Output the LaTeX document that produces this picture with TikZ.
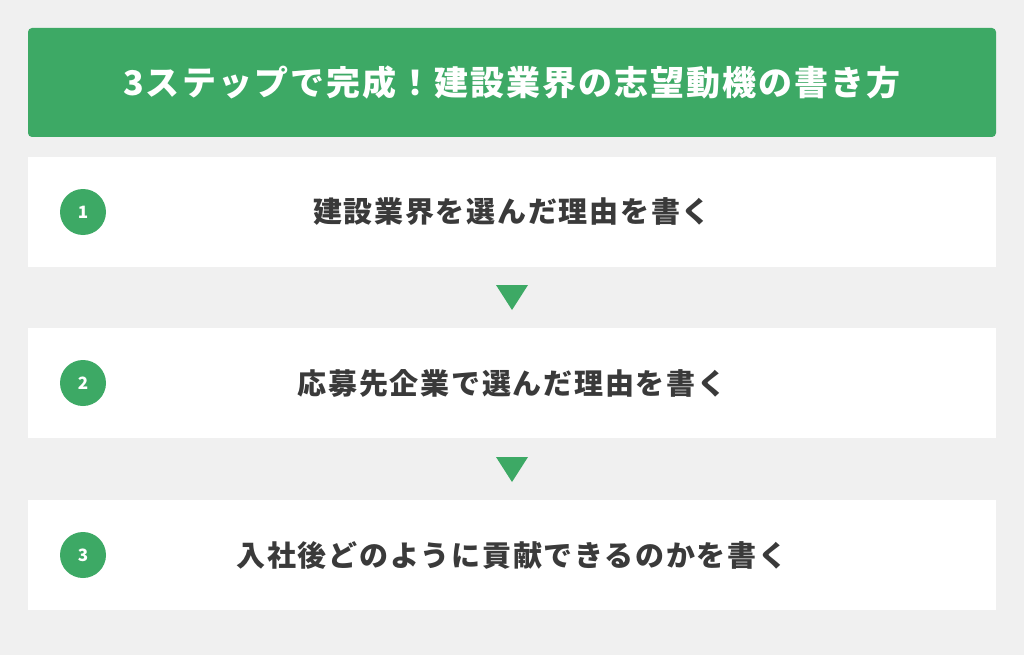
\documentclass[tikz,border=0pt]{standalone}
\usepackage{fontspec}
\newfontfamily\jpfont[LetterSpace=6]{Noto Sans CJK JP}
\newfontfamily\numfont{Noto Sans CJK JP}
\definecolor{bggray}{HTML}{F0F0F0}
\definecolor{stepgreen}{HTML}{3DA965}
\definecolor{textgray}{HTML}{3A3A3A}
\begin{document}
\begin{tikzpicture}[x=1pt,y=-1pt]
                \useasboundingbox (0,0) rectangle (1024,655);
                \fill[bggray] (0,0) rectangle (1024,655);

                % header
                \fill[stepgreen,rounded corners=4pt] (28,28) rectangle (996,137);
                \node[text=white,font=\jpfont\bfseries\fontsize{34}{38}\selectfont] (title) at (512,83) {3ステップで完成！建設業界の志望動機の書き方};

                % steps
                \fill[white] (28,157) rectangle (996,267);
                \fill[white] (28,328) rectangle (996,438);
                \fill[white] (28,500) rectangle (996,610);

                \node[circle,fill=stepgreen,minimum size=46pt,inner sep=0pt,text=white,font=\numfont\bfseries\fontsize{17}{19}\selectfont] (n1) at (83,212) {1};
                \node[circle,fill=stepgreen,minimum size=46pt,inner sep=0pt,text=white,font=\numfont\bfseries\fontsize{17}{19}\selectfont] (n2) at (83,383) {2};
                \node[circle,fill=stepgreen,minimum size=46pt,inner sep=0pt,text=white,font=\numfont\bfseries\fontsize{17}{19}\selectfont] (n3) at (83,555) {3};

                \node[text=textgray,font=\jpfont\bfseries\fontsize{29}{32}\selectfont] (s1) at (512,212) {建設業界を選んだ理由を書く};
                \node[text=textgray,font=\jpfont\bfseries\fontsize{29}{32}\selectfont] (s2) at (512,383) {応募先企業で選んだ理由を書く};
                \node[text=textgray,font=\jpfont\bfseries\fontsize{29}{32}\selectfont] (s3) at (512,555) {入社後どのように貢献できるのかを書く};

                % arrows
                \fill[stepgreen] (496,285) -- (528,285) -- (512,310) -- cycle;
                \fill[stepgreen] (496,457) -- (528,457) -- (512,482) -- cycle;
\end{tikzpicture}
\end{document}
